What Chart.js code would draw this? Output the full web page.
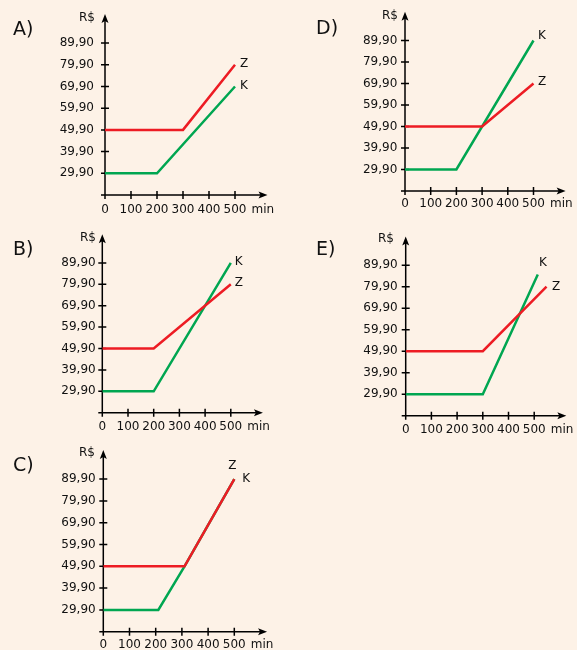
<!DOCTYPE html>
<html>

<head>
    <title>planos Z e K</title>
    <style>
        body {
            margin: 0;
            width: 577px;
            height: 650px;
            overflow: hidden;
            background: #fdf2e7;
            position: relative;
        }

        canvas {
            position: absolute;
        }
    </style>
    <script src="https://cdn.jsdelivr.net/npm/chart.js@4.4.1/dist/chart.umd.min.js"></script>
</head>

<body>
    <canvas id="chartA" width="290" height="220" style="left:0px;top:0px"></canvas>
    <canvas id="chartD" width="287" height="220" style="left:290px;top:0px"></canvas>
    <canvas id="chartB" width="290" height="220" style="left:0px;top:220px"></canvas>
    <canvas id="chartE" width="287" height="220" style="left:290px;top:220px"></canvas>
    <canvas id="chartC" width="290" height="220" style="left:0px;top:440px"></canvas>

    <script>
        // tick values / labels shared by all five graphs
        const xTicks = [0, 100, 200, 300, 400, 500];
        const yTicks = [29.9, 39.9, 49.9, 59.9, 69.9, 79.9, 89.9];
        const yTickLabels = ['29,90', '39,90', '49,90', '59,90', '69,90', '79,90', '89,90'];
        const X_MAX = 625;     // where the arrow ends
        const Y_MIN = 19.9;
        const Y_MAX = 103.3;

        // A)
        const zA_x = [0, 300, 500], zA_y = [49.9, 49.9, 79.9];
        const kA_x = [0, 200, 500], kA_y = [29.9, 29.9, 69.9];
        // B)
        const zB_x = [0, 200, 500], zB_y = [49.9, 49.9, 79.9];
        const kB_x = [0, 200, 500], kB_y = [29.9, 29.9, 89.9];
        // C)
        const zC_x = [0, 310, 500], zC_y = [49.9, 49.9, 89.9];
        const kC_x = [0, 210, 310, 500], kC_y = [29.9, 29.9, 49.9, 89.9];
        // D)
        const zD_x = [0, 300, 500], zD_y = [49.9, 49.9, 69.9];
        const kD_x = [0, 200, 500], kD_y = [29.9, 29.9, 89.9];
        // E)
        const zE_x = [0, 300, 548], zE_y = [49.9, 49.9, 79.9];
        const kE_x = [0, 300, 514], kE_y = [29.9, 29.9, 85.6];

        const RED = '#ed1c24';
        const GREEN = '#00a651';
        const INK = '#111';
        const FONT = '"DejaVu Sans", Verdana, sans-serif';

        function pts(xs, ys) {
            return xs.map((x, i) => ({ x: x, y: ys[i] }));
        }

        const axesPlugin = {
            id: 'sketchAxes',
            beforeDatasetsDraw(chart, args, o) {
                const ctx = chart.ctx;
                const sx = chart.scales.x, sy = chart.scales.y;
                const ox = sx.getPixelForValue(0), oy = sy.getPixelForValue(Y_MIN);
                const tx = sx.getPixelForValue(X_MAX), ty = sy.getPixelForValue(Y_MAX);
                ctx.save();
                ctx.strokeStyle = '#000';
                ctx.fillStyle = '#000';
                ctx.lineWidth = 1.5;
                ctx.beginPath();
                ctx.moveTo(ox - 4, oy); ctx.lineTo(tx - 5, oy);
                ctx.moveTo(ox, oy + 4); ctx.lineTo(ox, ty + 5);
                yTicks.forEach(v => {
                    const y = sy.getPixelForValue(v);
                    ctx.moveTo(ox - 4, y); ctx.lineTo(ox + 4, y);
                });
                xTicks.forEach(v => {
                    if (v === 0) return;
                    const x = sx.getPixelForValue(v);
                    ctx.moveTo(x, oy - 4); ctx.lineTo(x, oy + 4);
                });
                ctx.stroke();
                // arrow heads
                ctx.beginPath();
                ctx.moveTo(tx, oy); ctx.lineTo(tx - 9, oy - 3.5); ctx.lineTo(tx - 7, oy); ctx.lineTo(tx - 9, oy + 3.5);
                ctx.closePath(); ctx.fill();
                ctx.beginPath();
                ctx.moveTo(ox, ty); ctx.lineTo(ox - 3.5, ty + 9); ctx.lineTo(ox, ty + 7); ctx.lineTo(ox + 3.5, ty + 9);
                ctx.closePath(); ctx.fill();
                ctx.restore();
            },
            afterDraw(chart, args, o) {
                const ctx = chart.ctx;
                const sx = chart.scales.x, sy = chart.scales.y;
                const ox = sx.getPixelForValue(0), oy = sy.getPixelForValue(Y_MIN);
                const ty = sy.getPixelForValue(Y_MAX);
                ctx.save();
                ctx.fillStyle = INK;
                ctx.font = '12px ' + FONT;
                ctx.textBaseline = 'middle';

                ctx.textAlign = 'right';
                yTicks.forEach((v, i) => ctx.fillText(yTickLabels[i], ox - o.yGap, sy.getPixelForValue(v)));
                ctx.fillText('R$', ox - o.rs[0], ty + o.rs[1]);

                ctx.textAlign = 'center';
                xTicks.forEach(v => ctx.fillText(String(v), sx.getPixelForValue(v), oy + o.xGap));
                ctx.textAlign = 'left';
                ctx.fillText('min', sx.getPixelForValue(500) + 16.5, oy + o.xGap);

                // series names next to the line ends
                chart.data.datasets.forEach((ds, i) => {
                    const last = ds.data[ds.data.length - 1];
                    const off = o.names[ds.label];
                    ctx.fillText(ds.label, sx.getPixelForValue(last.x) + off[0], sy.getPixelForValue(last.y) + off[1]);
                });

                ctx.font = '19px ' + FONT;
                ctx.textBaseline = 'alphabetic';
                ctx.fillText(o.letter, o.letterPos[0], o.letterPos[1]);
                ctx.restore();
            }
        };

        function makeGraph(id, p, zx, zy, kx, ky) {
            const canvas = document.getElementById(id);
            const w = canvas.width, h = canvas.height;
            const padL = p.x0, padB = h - p.y0;
            const padR = w - p.x0 - (X_MAX / 100) * p.dx;
            const padT = p.y0 - ((Y_MAX - Y_MIN) / 10) * p.dy;
            return new Chart(canvas, {
                type: 'line',
                data: {
                    datasets: [
                        { label: 'Z', data: pts(zx, zy), borderColor: RED, order: 0 },
                        { label: 'K', data: pts(kx, ky), borderColor: GREEN, order: 1 }
                    ]
                },
                options: {
                    responsive: false,
                    animation: false,
                    layout: { padding: { left: padL, right: padR, top: padT, bottom: padB } },
                    scales: {
                        x: { type: 'linear', min: 0, max: X_MAX, display: false },
                        y: { type: 'linear', min: Y_MIN, max: Y_MAX, display: false }
                    },
                    elements: {
                        point: { radius: 0 },
                        line: { borderWidth: 2.5, tension: 0, fill: false }
                    },
                    plugins: {
                        legend: { display: false },
                        tooltip: { enabled: false },
                        sketchAxes: p
                    }
                },
                plugins: [axesPlugin]
            });
        }

        // pixel layout of each graph inside its canvas
        makeGraph('chartA', {
            x0: 105, y0: 195, dx: 26, dy: 21.7, yGap: 11, xGap: 15, rs: [10, 4],
            letter: 'A)', letterPos: [13, 35], names: { Z: [5, -1.3], K: [5, -1] }
        }, zA_x, zA_y, kA_x, kA_y);

        makeGraph('chartD', {
            x0: 115, y0: 191, dx: 25.7, dy: 21.5, yGap: 7.7, xGap: 13, rs: [7, 4],
            letter: 'D)', letterPos: [26, 34.3], names: { Z: [4.5, -1.8], K: [4.5, -4.5] }
        }, zD_x, zD_y, kD_x, kD_y);

        makeGraph('chartB', {
            x0: 102.3, y0: 192.7, dx: 25.7, dy: 21.4, yGap: 6.6, xGap: 14, rs: [6.3, 3.7],
            letter: 'B)', letterPos: [13, 35], names: { Z: [4, -1.6], K: [4, -1.2] }
        }, zB_x, zB_y, kB_x, kB_y);

        makeGraph('chartE', {
            x0: 115.7, y0: 195.7, dx: 25.7, dy: 21.5, yGap: 8, xGap: 14.3, rs: [11.7, 2.3],
            letter: 'E)', letterPos: [26, 35], names: { Z: [5.5, 0], K: [1.3, -11.3] }
        }, zE_x, zE_y, kE_x, kE_y);

        makeGraph('chartC', {
            x0: 103.3, y0: 191.7, dx: 26.2, dy: 21.8, yGap: 7.6, xGap: 13.3, rs: [8.3, 3],
            letter: 'C)', letterPos: [13, 30.7], names: { Z: [-6, -13], K: [8, 0] }
        }, zC_x, zC_y, kC_x, kC_y);
    </script>
</body>

</html>
